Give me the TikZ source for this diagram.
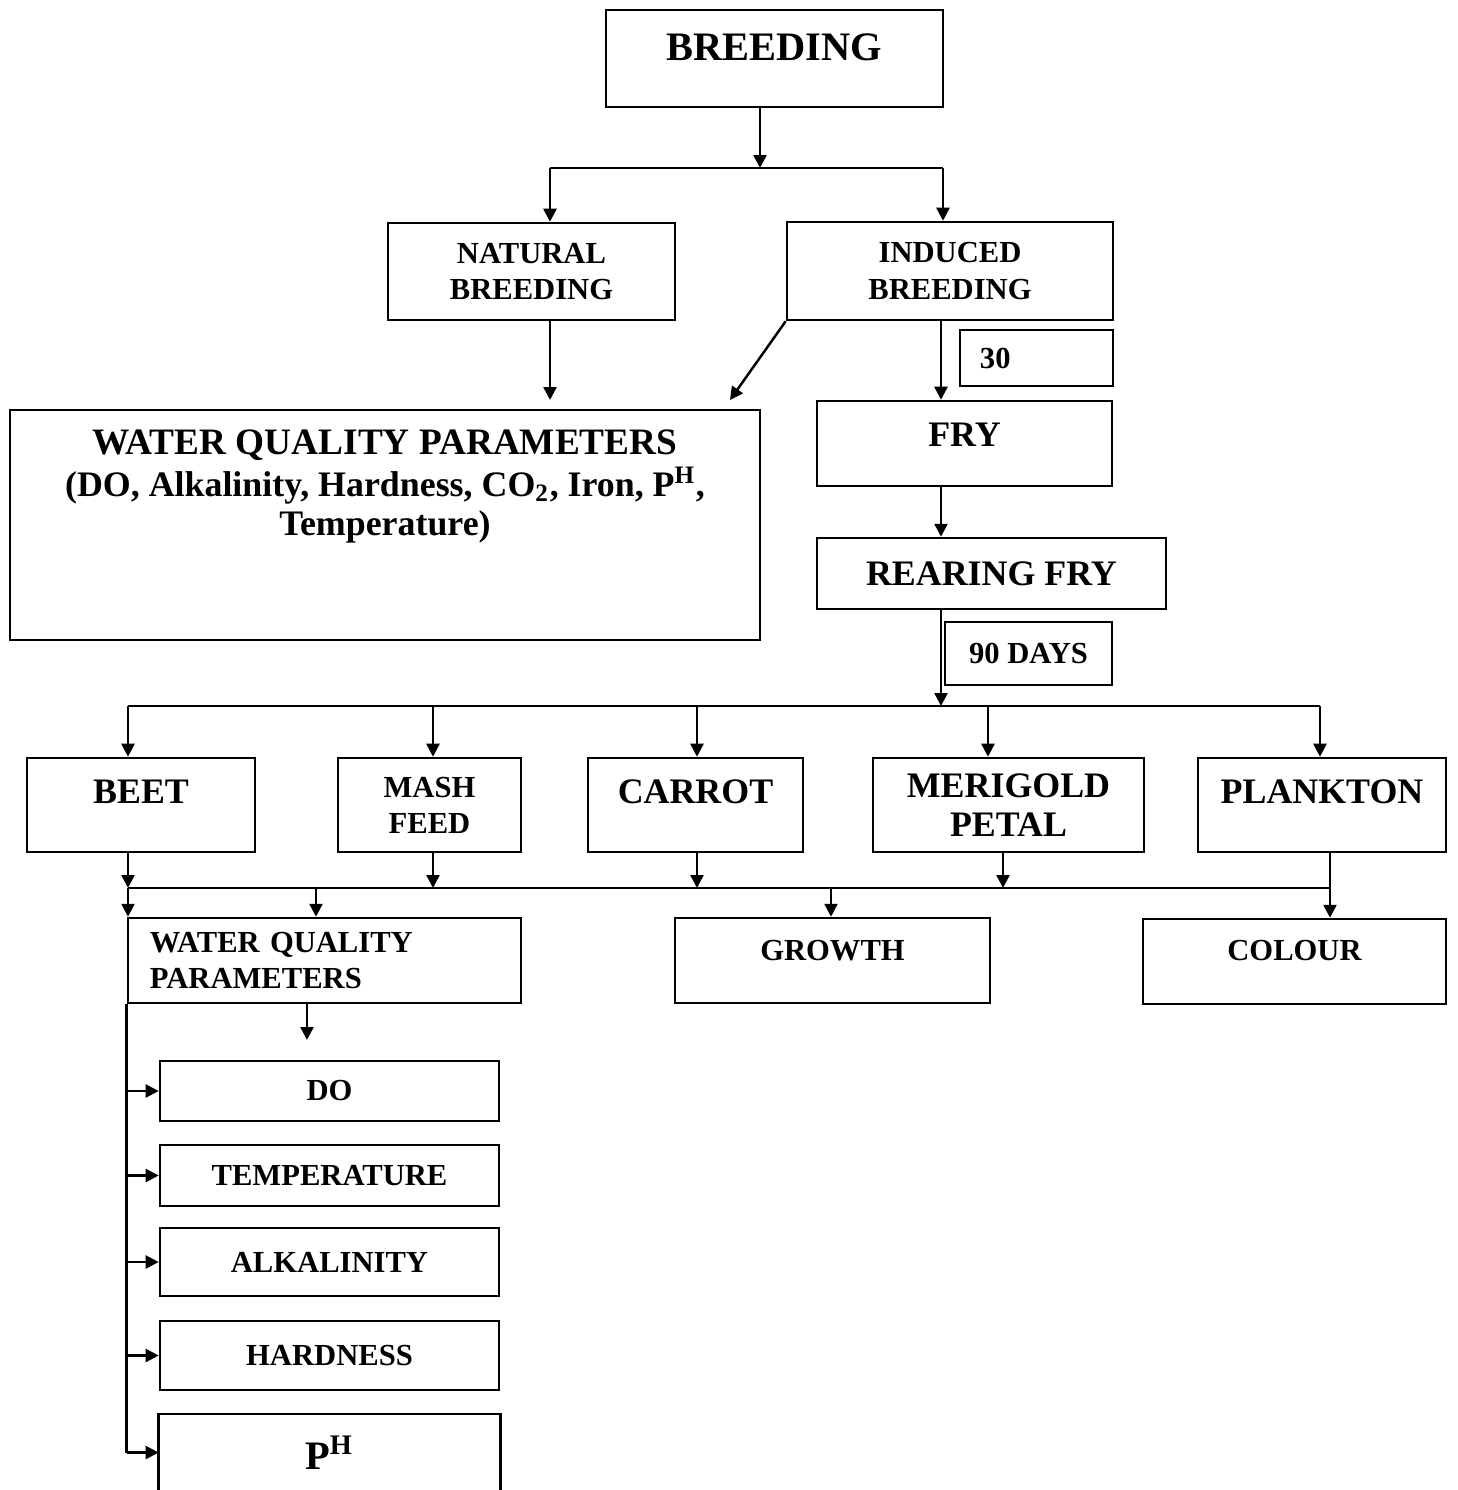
\documentclass[tikz,border=0pt]{standalone}
\usepackage{fontspec}
\setmainfont{Liberation Serif}
\usetikzlibrary{arrows.meta,positioning,calc}

\begin{document}
\begin{tikzpicture}[
  x=0.01cm, y=-0.01cm,
  line width=0.7pt,
  box/.style={draw, inner sep=2pt, align=center},
  big/.style={font=\fontsize{11.5}{13}\selectfont\bfseries},
  mid/.style={font=\fontsize{10.2}{11}\selectfont\bfseries},
  sml/.style={font=\fontsize{8.7}{10.3}\selectfont\bfseries},
  >={Triangle[length=1.3mm,width=1.3mm]},
]
  \useasboundingbox (0,0) rectangle (1458,1490);

  % top part
  \node[box, big, minimum width=33.7mm, minimum height=9.7mm, text depth=2.3mm] (breed) at (774.5,58.5) {BREEDING};
  \node[box, sml, minimum width=28.7mm, minimum height=9.7mm] (nat) at (531.5,271.5) {NATURAL\\BREEDING};
  \node[box, sml, minimum width=32.6mm, minimum height=9.8mm] (ind) at (950,271) {INDUCED\\BREEDING};
  \node[box, mid, minimum width=75mm, minimum height=23mm, text depth=8.5mm] (wqp) at (385,525)
    {{\fontsize{10.6}{12}\selectfont WATER QUALITY PARAMETERS}\\[1pt]
     (DO, Alkalinity, Hardness, CO\textsubscript{2}, Iron, P\textsuperscript{H},\\Temperature)};
  \node[box, sml, minimum width=15.3mm, minimum height=5.6mm, text width=11.3mm, align=left] (thirty) at (1036.5,358) {30};
  \node[box, mid, minimum width=29.5mm, minimum height=8.5mm, text depth=1.7mm] (fry) at (964.5,443.5) {FRY};
  \node[box, mid, minimum width=34.9mm, minimum height=7.1mm] (rear) at (991.5,573.5) {REARING FRY};
  \node[box, sml, minimum width=16.7mm, minimum height=6.3mm] (ninety) at (1028.5,653.5) {90 DAYS};

  % feeds
  \node[box, mid, minimum width=22.8mm, minimum height=9.4mm, text depth=2.6mm] (beet) at (141,805) {BEET};
  \node[box, sml, minimum width=18.3mm, minimum height=9.4mm] (mash) at (429.5,805) {MASH\\FEED};
  \node[box, mid, minimum width=21.5mm, minimum height=9.4mm, text depth=2.6mm] (carrot) at (695.5,805) {CARROT};
  \node[box, mid, minimum width=27.1mm, minimum height=9.4mm] (meri) at (1008.5,805) {MERIGOLD\\PETAL};
  \node[box, mid, minimum width=24.8mm, minimum height=9.4mm, text depth=2.6mm] (plank) at (1322,805) {PLANKTON};

  % results
  \node[box, sml, minimum width=39.3mm, minimum height=8.5mm, text width=34.9mm, align=left] (wqpb) at (324.5,960.5) {WATER QUALITY\\PARAMETERS};
  \node[box, sml, minimum width=31.5mm, minimum height=8.5mm, text depth=2.1mm] (growth) at (832.5,960.5) {GROWTH};
  \node[box, sml, minimum width=30.3mm, minimum height=8.5mm, text depth=2.3mm] (colour) at (1294.5,961.5) {COLOUR};

  % parameters
  \node[box, sml, minimum width=33.9mm, minimum height=6mm] (do) at (329.5,1091) {DO};
  \node[box, sml, minimum width=33.9mm, minimum height=6.1mm] (temp) at (329.5,1175.5) {TEMPERATURE};
  \node[box, sml, minimum width=33.9mm, minimum height=6.8mm] (alk) at (329.5,1262) {ALKALINITY};
  \node[box, sml, minimum width=33.9mm, minimum height=6.9mm] (hard) at (329.5,1355.5) {HARDNESS};
  \node[box, big, draw=none, minimum width=33.9mm, minimum height=7.5mm] (ph) at (329.5,1452.5) {P\textsuperscript{H}};
  \draw (ph.south west) |- (ph.north) -| (ph.south east);

  % connectors
  \coordinate (split) at (760,168);
  \coordinate (nt) at (550,168);
  \coordinate (it) at (943,168);
  \draw[->] (breed.south -| split) -- (split);
  \draw (nt) -- (it);
  \draw[->] (nt) -- (nt |- nat.north);
  \draw[->] (it) -- (it |- ind.north);

  \coordinate (wn) at (550,400);
  \coordinate (wd) at (730,400);
  \draw[->] (nat.south -| wn) -- (wn);
  \draw[->] (ind.south west) -- (wd);

  \coordinate (fx) at (941,706);
  \draw[->] (ind.south -| fx) -- (fry.north -| fx);
  \draw[->] (fry.south -| fx) -- (rear.north -| fx);
  \draw[->] (rear.south -| fx) -- (fx);
  \draw (128,706) -- (1320,706);
  \foreach \n/\x in {beet/128,mash/433,carrot/697,meri/988,plank/1320}
    \draw[->] (\x,706) -- (\x,706 |- \n.north);

  \draw (128,888) -- (1330,888);
  \foreach \n/\x in {beet/128,mash/433,carrot/697,meri/1003}
    \draw[->] (\x,888 |- \n.south) -- (\x,888);
  \draw[->] (1330,888 |- plank.south) -- (1330,888 |- colour.north);
  \foreach \n/\x in {wqpb/128,wqpb/316,growth/831}
    \draw[->] (\x,888) -- (\x,888 |- \n.north);

  \coordinate (wq) at (307,1040);
  \draw[->] (wqpb.south -| wq) -- (wq);
  \draw (wqpb.south west) -- (wqpb.south west |- ph.west);
  \foreach \n in {do,temp,alk,hard,ph}
    \draw[->] (wqpb.west |- \n.west) -- (\n.west);
\end{tikzpicture}
\end{document}
